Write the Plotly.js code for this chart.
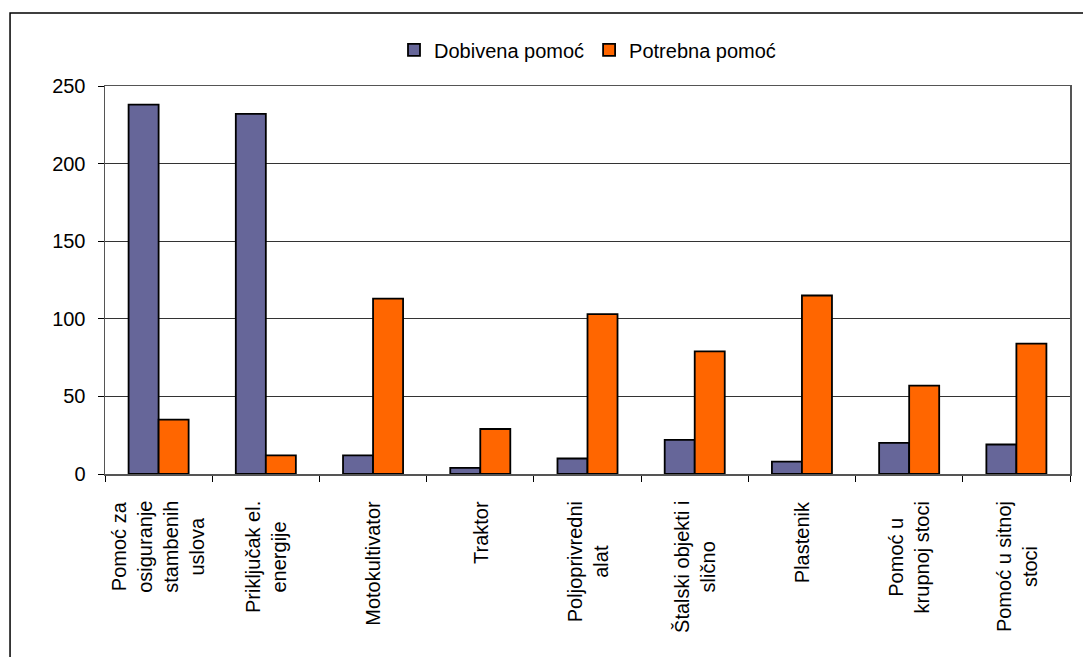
<!DOCTYPE html>
<html><head><meta charset="utf-8">
<script src="https://cdn.plot.ly/plotly-3.0.1.min.js"></script>
<style>html,body{margin:0;padding:0;background:#fff}#chart{width:1083px;height:657px}</style>
</head><body><div id="chart"></div>
<script>
const categories = [
  "Pomoć za<br>osiguranje<br>stambenih<br>uslova",
  "Priključak el.<br>energije",
  "Motokultivator",
  "Traktor",
  "Poljoprivredni<br>alat",
  "Štalski objekti i<br>slično",
  "Plastenik",
  "Pomoć u<br>krupnoj stoci",
  "Pomoć u sitnoj<br>stoci"
];
const dobivena = [238, 232, 12, 4, 10, 22, 8, 20, 19];
const potrebna = [35, 12, 113, 29, 103, 79, 115, 57, 84];
const seriesNames = ["Dobivena pomoć", "Potrebna pomoć"];
const yTicks = [0, 50, 100, 150, 200, 250];

const fam = "Liberation Sans, Arial, sans-serif";
const traces = [
  {type: "bar", name: seriesNames[0], x: categories, y: dobivena,
   marker: {color: "#666699", line: {color: "#000", width: 1.8}}},
  {type: "bar", name: seriesNames[1], x: categories, y: potrebna,
   marker: {color: "#FF6600", line: {color: "#000", width: 1.8}}}
];
const labelAnnotations = categories.map(c => ({
  x: c, xref: "x", y: -0.065, yref: "paper", text: c, showarrow: false,
  textangle: -90, align: "center", xanchor: "center", yanchor: "top",
  font: {family: fam, size: 20, color: "#000"}
}));
const layout = {
  width: 1083, height: 657,
  margin: {l: 105, r: 13, t: 86, b: 183},
  paper_bgcolor: "#fff", plot_bgcolor: "#fff",
  font: {family: fam, size: 20, color: "#000"},
  barmode: "group", bargap: 0.44, bargroupgap: 0,
  showlegend: true,
  legend: {orientation: "h", x: 0.5, xanchor: "center", y: 1.093, yanchor: "middle",
           font: {family: fam, size: 20, color: "#000"}, itemwidth: 30, itemgap: 24,
           traceorder: "normal"},
  xaxis: {type: "category", tickson: "boundaries", ticks: "outside", ticklen: 6,
          tickcolor: "#000", showline: true, linecolor: "#555", linewidth: 1.5, mirror: true,
          showgrid: false, showticklabels: false, automargin: false},
  yaxis: {range: [0, 250], tickvals: yTicks, ticks: "outside", ticklen: 6, tickcolor: "#000",
          showline: true, linecolor: "#555", linewidth: 1.5, mirror: true,
          showgrid: true, gridcolor: "#333", gridwidth: 1, zeroline: false,
          tickfont: {family: fam, size: 20, color: "#000"}, automargin: false, ticklabelstandoff: 8},
  annotations: labelAnnotations,
  shapes: [{type: "rect", xref: "paper", yref: "paper", x0: -0.0984, x1: 1.2, y0: -0.6, y1: 1.188,
            line: {color: "#000", width: 1.5}, fillcolor: "rgba(0,0,0,0)", layer: "below"}]
};
Plotly.newPlot("chart", traces, layout, {displayModeBar: false, staticPlot: true});
</script></body></html>
